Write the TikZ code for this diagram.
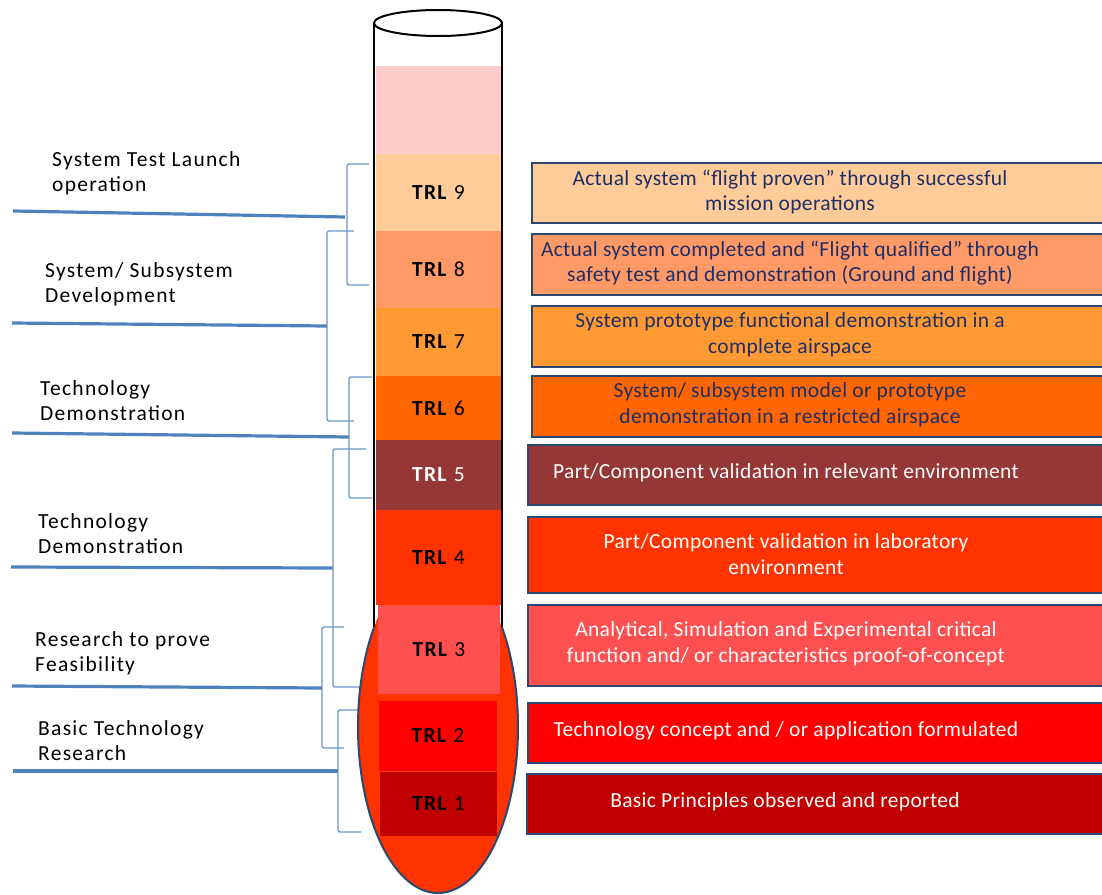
\documentclass[tikz,border=0pt]{standalone}
\usepackage{fontspec}
\setmainfont{Carlito}
\newfontfamily\widefont[LetterSpace=6]{Carlito}
\newfontfamily\descfont[LetterSpace=1.5]{Carlito}
\usepackage{tikz}
\usetikzlibrary{positioning}

\definecolor{trlpink}{HTML}{FFCCCC}
\definecolor{trlnine}{HTML}{FFCC99}
\definecolor{trleight}{HTML}{FF9966}
\definecolor{trlseven}{HTML}{FF9933}
\definecolor{trlsix}{HTML}{FF6600}
\definecolor{trlfive}{HTML}{953735}
\definecolor{trlfour}{HTML}{FF3300}
\definecolor{trlthree}{HTML}{FF5050}
\definecolor{trltwo}{HTML}{FF0000}
\definecolor{trlone}{HTML}{C00000}
\definecolor{boxedge}{HTML}{2C4770}
\definecolor{navytext}{HTML}{1F2F66}
\definecolor{stemblue}{HTML}{4F81BD}

\begin{document}
\begin{tikzpicture}[
			x=1pt, y=1pt,
			font=\fontsize{20.5}{25}\selectfont,
			% Styles
			band/.style={rectangle, inner sep=0pt, minimum width=125, text=black, font=\widefont\fontsize{21.5}{25}\selectfont},
			descbox/.style={rectangle, draw=boxedge, line width=2pt, anchor=north west, minimum width=600, inner sep=0pt},
			desctext/.style={align=center, inner sep=0pt, font=\descfont\fontsize{21.5}{25.5}\selectfont},
			phase/.style={anchor=west, align=left, inner sep=0pt, text=black, font=\widefont\fontsize{21.5}{25}\selectfont},
			stem/.style={draw=stemblue, line width=3.2pt},
			brace/.style={draw=stemblue!85, line width=1.3pt, rounded corners=2pt},
			glass/.style={draw=black, line width=2pt}
			]
			
			\clip (0,0) rectangle (1102,-894);
			
			% --- 1. Phase labels and brackets ---
			\node[phase] (launch) at (52,-173.5) {System Test Launch\\operation};
			\node[phase] (devel) at (45,-284.5) {System/ Subsystem\\Development};
			\node[phase] (demoA) at (40,-401) {Technology\\Demonstration};
			\node[phase] (demoB) at (38,-534) {Technology\\Demonstration};
			\node[phase] (feas) at (35,-653) {Research to prove\\Feasibility};
			\node[phase] (basic) at (38,-741) {Basic Technology\\Research};
			
			% Thick lines under each label
			\coordinate (launch-s) at (13,-211);  \coordinate (launch-j) at (345,-217);
			\coordinate (devel-s) at (12,-323);   \coordinate (devel-j) at (327,-326);
			\coordinate (demoA-s) at (12,-433);   \coordinate (demoA-j) at (349,-437);
			\coordinate (demoB-s) at (11,-567);   \coordinate (demoB-j) at (333,-568);
			\coordinate (feas-s) at (12,-686);    \coordinate (feas-j) at (322,-688);
			\coordinate (basic-s) at (13,-771);   \coordinate (basic-j) at (338,-771);
			
			\draw[stem] (launch-s) -- (launch-j);
			\draw[stem] (devel-s) -- (devel-j);
			\draw[stem] (demoA-s) -- (demoA-j);
			\draw[stem] (demoB-s) -- (demoB-j);
			\draw[stem] (feas-s) -- (feas-j);
			\draw[stem] (basic-s) -- (basic-j);
			
			% Brackets (top tick -> vertical -> bottom tick)
			\coordinate (launch-t) at (369,-164); \coordinate (launch-b) at (369,-285);
			\coordinate (devel-t) at (354,-231);  \coordinate (devel-b) at (354,-421);
			\coordinate (demoA-t) at (372,-377);  \coordinate (demoA-b) at (372,-498);
			\coordinate (demoB-t) at (366,-449);  \coordinate (demoB-b) at (365,-687);
			\coordinate (feas-t) at (344,-627);   \coordinate (feas-b) at (344,-748);
			\coordinate (basic-t) at (361,-710);  \coordinate (basic-b) at (361,-832);
			
			\draw[brace] (launch-t) -- (347,-164) -- (347,-285) -- (launch-b);
			\draw[brace] (devel-t) -- (327,-231) -- (327,-421) -- (devel-b);
			\draw[brace] (demoA-t) -- (349,-377) -- (349,-498) -- (demoA-b);
			\draw[brace] (demoB-t) -- (333,-449) -- (333,-687) -- (demoB-b);
			\draw[brace] (feas-t) -- (322,-627) -- (322,-748) -- (feas-b);
			\draw[brace] (basic-t) -- (338,-710) -- (338,-832) -- (basic-b);
			
			% --- 2. The thermometer ---
			\fill[trlfour] (438,-727) ellipse [x radius=80, y radius=166];
			
			\node[band, fill=trlpink, minimum height=88] (empty) at (438.5,-110) {};
			\node[band, fill=trlnine, minimum height=77] (t9) at (438.5,-192.5) {\textbf{TRL} 9};
			\node[band, fill=trleight, minimum height=77] (t8) at (438.5,-269.5) {\textbf{TRL} 8};
			\node[band, fill=trlseven, minimum height=68] (t7) at (438.5,-342) {\textbf{TRL} 7};
			\node[band, fill=trlsix, minimum height=64] (t6) at (438.5,-408) {\textbf{TRL} 6};
			\node[band, fill=trlfive, minimum height=70, text=white] (t5) at (438.5,-475) {\textbf{TRL} 5};
			\node[band, fill=trlfour, minimum height=95] (t4) at (438.5,-557.5) {\textbf{TRL} 4};
			\node[band, fill=trlthree, minimum height=89, minimum width=122] (t3) at (439,-649.5) {\textbf{TRL} 3};
			\node[band, fill=trltwo, minimum height=70, minimum width=118] (t2) at (438,-736) {\textbf{TRL} 2};
			\node[band, fill=trlone, minimum height=64, minimum width=117] (t1) at (438.5,-804) {\textbf{TRL} 1};
			
			% Glass outline
			\draw[glass] (374,-23) -- (374,-627.4);
			\draw[glass] (502,-23) -- (502,-627.4);
			\draw[glass, fill=white] (438,-23) ellipse [x radius=64, y radius=13];
			\draw[draw=boxedge, line width=2pt] (374,-627.4) arc[start angle=143.13, end angle=396.87, x radius=80, y radius=166];
			
			% --- 3. Descriptions ---
			\node[descbox, fill=trlnine, minimum height=60] (d9) at (531,-162) {};
			\node[descbox, fill=trleight, minimum height=61] (d8) at (531,-233) {};
			\node[descbox, fill=trlseven, minimum height=61] (d7) at (531,-305) {};
			\node[descbox, fill=trlsix, minimum height=61] (d6) at (531,-375) {};
			\node[descbox, fill=trlfive, minimum height=60] (d5) at (527,-444) {};
			\node[descbox, fill=trlfour, minimum height=76] (d4) at (527,-516) {};
			\node[descbox, fill=trlthree, minimum height=81] (d3) at (527,-604) {};
			\node[descbox, fill=trltwo, minimum height=60] (d2) at (527,-702) {};
			\node[descbox, fill=trlone, minimum height=60] (d1) at (526,-773) {};
			
			\node[desctext, text=navytext] (d9txt) at (790,-192) {Actual system “flight proven” through successful\\mission operations};
			\node[desctext, text=navytext] (d8txt) at (790,-263) {Actual system completed and “Flight qualified” through\\safety test and demonstration (Ground and flight)};
			\node[desctext, text=navytext] (d7txt) at (790,-335) {System prototype functional demonstration in a\\complete airspace};
			\node[desctext, text=navytext] (d6txt) at (790,-405) {System/ subsystem model or prototype\\demonstration in a restricted airspace};
			\node[desctext, text=white] (d5txt) at (786,-473) {Part/Component validation in relevant environment};
			\node[desctext, text=white] (d4txt) at (786,-554) {Part/Component validation in laboratory\\environment};
			\node[desctext, text=white] (d3txt) at (786,-644) {Analytical, Simulation and Experimental critical\\function and/ or characteristics proof-of-concept};
			\node[desctext, text=white] (d2txt) at (786,-731) {Technology concept and / or application formulated};
			\node[desctext, text=white] (d1txt) at (785,-802) {Basic Principles observed and reported};
			
		\end{tikzpicture}
\end{document}
